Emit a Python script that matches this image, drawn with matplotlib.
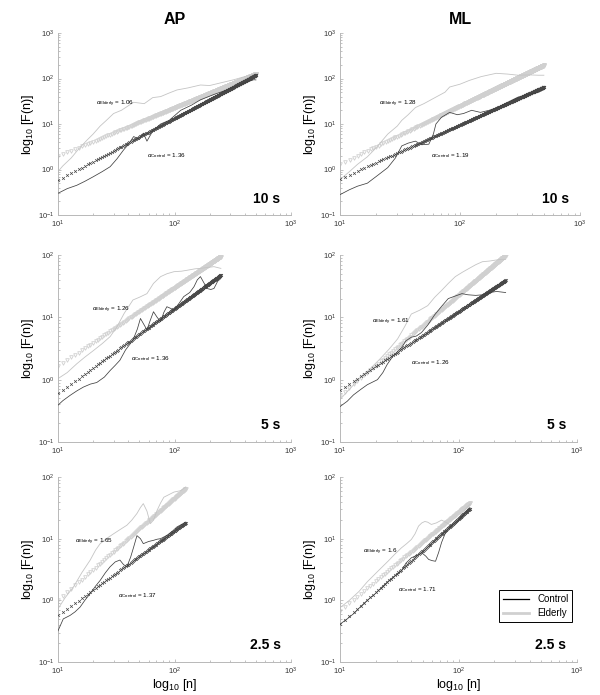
import numpy as np
import matplotlib
matplotlib.use("Agg")
import matplotlib.pyplot as plt
from matplotlib.lines import Line2D

plt.rcParams['font.family'] = ['Liberation Sans', 'DejaVu Sans']
plt.rcParams['mathtext.fontset'] = 'custom'
plt.rcParams['mathtext.rm'] = 'Liberation Sans'
plt.rcParams['mathtext.it'] = 'Liberation Sans:italic'
plt.rcParams['mathtext.bf'] = 'Liberation Sans:bold'

# window lengths and largest box size n of each row
windows = ['10 s', '5 s', '2.5 s']
n_max = [500, 250, 125]
directions = ['AP', 'ML']

# DFA exponents printed on the panels (rows: 10 s, 5 s, 2.5 s)
alpha_ctrl_ap = [1.36, 1.36, 1.37]
alpha_eld_ap = [1.06, 1.26, 1.65]
alpha_ctrl_ml = [1.19, 1.26, 1.71]
alpha_eld_ml = [1.28, 1.61, 1.6]

# fitted F(n) at n = 10
f10_ctrl_ap = [0.58, 0.6, 0.57]
f10_eld_ap = [1.97, 1.63, 1.0]
f10_ctrl_ml = [0.62, 0.68, 0.41]
f10_eld_ml = [1.3, 0.55, 0.67]

# raw fluctuation curves F(n)
# AP 10 s
n_ap10_c = [10, 12, 14.5, 17, 20, 24, 28, 32, 36.6, 40, 44.6, 50, 54, 58, 65, 76, 90, 113, 140, 167, 220, 283, 350, 420, 480, 500]
f_ap10_c = [0.30, 0.38, 0.45, 0.55, 0.69, 0.9, 1.15, 1.7, 2.7, 3.5, 5.3, 4.6, 6.3, 4.2, 7, 10, 12, 20, 26, 34, 45, 56, 70, 85, 94, 93]
n_ap10_e = [10, 11, 13, 15, 17.7, 20, 23, 26, 30, 35, 44.6, 55, 65, 76, 90, 105, 130, 167, 200, 248, 323, 400, 500]
f_ap10_e = [0.9, 1.2, 1.8, 2.8, 4.4, 6, 9, 12, 17, 20, 30, 28, 38, 40, 48, 56, 62, 72, 70, 80, 94, 110, 128]
# ML 10 s
n_ml10_c = [10, 12, 14, 16.9, 20, 25, 29, 32.7, 37, 42.5, 48, 55, 60, 63, 70, 82, 95, 107, 125, 148, 175, 206, 250, 305, 380, 452, 500]
f_ml10_c = [0.28, 0.36, 0.43, 0.5, 0.7, 1.1, 1.8, 3.3, 3.8, 4.2, 3.5, 3.6, 6, 10, 14, 18, 16, 17, 20, 18, 20, 23, 30, 39, 45, 50, 57]
n_ml10_e = [10, 12, 14, 16.9, 20, 25, 30, 32.7, 37, 42.5, 50, 63, 75, 82, 100, 120, 150, 200, 250, 305, 380, 450, 500]
f_ml10_e = [0.6, 0.9, 1.3, 1.9, 3, 6, 9, 12, 16, 23, 28, 39, 50, 65, 75, 91, 110, 130, 125, 118, 120, 118, 118]
# AP 5 s
n_ap5_c = [10, 11, 12.7, 14.5, 16.5, 19, 21.5, 25, 28, 31, 34, 38, 44, 48, 51, 55, 58, 62, 66, 71, 76, 81, 86, 92, 99, 110, 120, 135, 147, 157, 167, 180, 190, 205, 218, 235, 250]
f_ap5_c = [0.39, 0.46, 0.56, 0.66, 0.76, 0.85, 0.9, 1.1, 1.4, 1.7, 2.05, 3.0, 4.3, 6.5, 9.6, 7.5, 6.3, 9, 12.3, 10, 8.5, 12, 14.8, 14, 13, 17, 21.5, 25, 31, 40, 45, 35, 29, 28, 29, 38, 42]
n_ap5_e = [10, 12, 14.5, 17, 20, 24, 28, 32, 37, 44, 50, 58, 66, 76, 86, 99, 115, 129, 150, 167, 190, 218, 250]
f_ap5_e = [1.04, 1.3, 1.8, 2.3, 2.9, 3.8, 4.9, 7, 11.6, 19, 21, 24, 35, 45, 50, 54, 55, 57, 60, 61, 63, 65, 61]
# ML 5 s
n_ml5_c = [10, 11.5, 13, 15, 17, 20.7, 23, 25, 28, 32.8, 36, 40, 44, 48.7, 55, 63, 72, 82, 94, 107, 120, 140, 160, 183, 210, 250]
f_ml5_c = [0.37, 0.45, 0.57, 0.7, 0.83, 1.0, 1.3, 1.75, 2.4, 3.2, 4.2, 4.8, 5.0, 5.7, 7.5, 11, 15, 20, 22, 24, 23, 22.5, 23, 25, 26, 25]
n_ml5_e = [10, 12, 14.8, 18, 22, 26, 30.6, 35, 40, 47, 55, 63, 72, 82, 94, 108, 123, 140, 159, 183, 207, 230, 250]
f_ml5_e = [0.48, 0.7, 1.07, 1.5, 2.2, 3.1, 4.5, 7, 11.3, 13, 15.4, 21, 27, 35, 45, 53, 61, 70, 78, 80, 83, 85, 85]
# AP 2.5 s
n_ap25_c = [10, 11.1, 12.7, 14, 15.5, 17, 18.9, 21, 23, 25.5, 28, 31, 34, 36.5, 39, 42, 44.6, 47.6, 51, 54, 60, 66, 71, 76, 86, 95, 105, 115, 125]
f_ap25_c = [0.32, 0.5, 0.57, 0.65, 0.78, 1.0, 1.29, 1.7, 2.1, 2.8, 3.5, 4.2, 4.5, 3.8, 3.5, 5, 7.3, 11.2, 10, 8.3, 9, 9.4, 9.8, 10, 11.3, 13, 15.5, 17, 18.6]
n_ap25_e = [10, 11.5, 13.6, 16, 18.9, 21, 23, 26, 30, 34, 39, 43, 47.6, 51, 54, 58, 62, 66, 71, 76, 81, 90, 99, 113, 125]
f_ap25_e = [0.73, 1.1, 1.66, 2.8, 4.5, 6.5, 8.3, 10, 12, 14, 16.5, 20, 25.6, 32, 37, 28, 17.5, 20, 29, 38, 47, 52, 57, 60, 69]
# ML 2.5 s
n_ml25_c = [10, 11.5, 13.2, 15, 17, 20, 23, 26, 29, 33, 36, 40, 44, 49, 53, 56, 60, 64, 68, 72, 77, 83, 90, 100, 112, 125]
f_ml25_c = [0.41, 0.5, 0.62, 0.8, 1.0, 1.3, 1.7, 2.1, 2.5, 3.0, 4.0, 4.9, 5.3, 5.9, 5.2, 4.6, 4.4, 4.3, 6, 8.7, 12, 15, 17, 19.5, 25, 32]
n_ml25_e = [10, 12, 14.5, 17, 21, 25.4, 29, 33, 36.5, 40, 43, 46, 49, 52, 55, 59, 65, 72, 80, 88, 97, 107, 116, 125]
f_ml25_e = [0.76, 1.0, 1.4, 2.0, 3.0, 4.3, 5.6, 7.1, 8.3, 9.7, 12, 16, 18, 19, 18.5, 17, 18, 20, 18, 16, 19, 25, 31, 36]

raw = {
    ('AP', 0): (n_ap10_c, f_ap10_c, n_ap10_e, f_ap10_e),
    ('ML', 0): (n_ml10_c, f_ml10_c, n_ml10_e, f_ml10_e),
    ('AP', 1): (n_ap5_c, f_ap5_c, n_ap5_e, f_ap5_e),
    ('ML', 1): (n_ml5_c, f_ml5_c, n_ml5_e, f_ml5_e),
    ('AP', 2): (n_ap25_c, f_ap25_c, n_ap25_e, f_ap25_e),
    ('ML', 2): (n_ml25_c, f_ml25_c, n_ml25_e, f_ml25_e),
}
fits = {
    'AP': (alpha_ctrl_ap, f10_ctrl_ap, alpha_eld_ap, f10_eld_ap),
    'ML': (alpha_ctrl_ml, f10_ctrl_ml, alpha_eld_ml, f10_eld_ml),
}

# layout (pixels of the 600x695 image)
W, H = 600, 695
col_x = {'AP': (58, 291), 'ML': (340, 577)}
row_y = [(33, 215), (255, 442), (477, 662)]
ylims = [(0.1, 1000), (0.1, 100), (0.1, 100)]
# where the alpha labels sit (data coords): elderly, control
label_pos = {
    ('AP', 0): ((21, 28), (58, 2.0)),
    ('ML', 0): ((21, 28), (57, 2.0)),
    ('AP', 1): ((19.5, 13), (42, 2.2)),
    ('ML', 1): ((18.7, 8.6), (40, 1.86)),
    ('AP', 2): ((14, 8.8), (33, 1.2)),
    ('ML', 2): ((15.5, 6.2), (31, 1.5)),
}

ctrl_col = '#484848'
eld_col = '#d0d0d0'
axis_col = '#b8b8b8'

fig = plt.figure(figsize=(6, 6.95), dpi=100)

for d in directions:
    a_c, f_c, a_e, f_e = fits[d]
    for r in range(3):
        x0, x1 = col_x[d]
        if d == 'ML' and r == 0:
            x1 = 580
        y0, y1 = row_y[r]
        ax = fig.add_axes([x0 / W, 1 - y1 / H, (x1 - x0) / W, (y1 - y0) / H])
        ax.set_xscale('log')
        ax.set_yscale('log')

        n = np.arange(10, n_max[r] + 1)
        fit_c = f_c[r] * (n / 10.0) ** a_c[r]
        fit_e = f_e[r] * (n / 10.0) ** a_e[r]
        nc, fc, ne, fe = raw[(d, r)]

        ax.plot(n, fit_e, linestyle='none', marker='v', ms=2.6, mfc='none',
                mec=eld_col, mew=0.6, zorder=1)
        ax.plot(ne, fe, color='#c4c4c4', lw=0.6, zorder=2)
        ax.plot(n, fit_c, linestyle='none', marker='x', ms=2.0,
                mec=ctrl_col, mew=0.5, zorder=3)
        ax.plot(nc, fc, color='#404040', lw=0.55, zorder=4)

        (ex, ey), (cx, cy) = label_pos[(d, r)]
        ax.text(ex, ey, r'$\alpha_{\mathrm{Elderly}}$ = ' + str(a_e[r]),
                fontsize=4.5, va='center', ha='left')
        ax.text(cx, cy, r'$\alpha_{\mathrm{Control}}$ = ' + str(a_c[r]),
                fontsize=4.5, va='center', ha='left')

        ax.text(0.955, 0.09, windows[r], transform=ax.transAxes, ha='right',
                va='center', fontsize=10, fontweight='bold')

        ax.set_xlim(10, 1000)
        ax.set_ylim(*ylims[r])
        ax.spines['top'].set_visible(False)
        ax.spines['right'].set_visible(False)
        for s in ('left', 'bottom'):
            ax.spines[s].set_color(axis_col)
            ax.spines[s].set_linewidth(0.7)
        ax.tick_params(which='both', direction='in', colors=axis_col,
                       labelcolor='#333333', labelsize=5.5, width=0.6)
        ax.tick_params(axis='x', which='both', pad=3)
        ax.tick_params(axis='y', which='both', pad=2.5)
        ax.tick_params(which='major', length=2.5)
        ax.tick_params(which='minor', length=1.5)
        ax.set_ylabel(r'log$_{10}$ [F(n)]', fontsize=9, labelpad=1.5)
        if r == 2:
            ax.set_xlabel(r'log$_{10}$ [n]', fontsize=9, labelpad=0)
        if r == 0:
            fig.text((x0 + x1) / 2 / W, 1 - 20 / H, d, ha='center', va='center',
                     fontsize=11.5, fontweight='bold')
        if d == 'ML' and r == 2:
            handles = [Line2D([], [], color='black', lw=0.9),
                       Line2D([], [], color='#d0d0d0', lw=2)]
            leg = ax.legend(handles, ['Control', 'Elderly'], loc='lower right',
                            bbox_to_anchor=(1.0, 0.19), fontsize=7,
                            handlelength=2.7, fancybox=False, framealpha=1,
                            borderpad=0.4, labelspacing=0.4)
            leg.get_frame().set_edgecolor('black')
            leg.get_frame().set_linewidth(0.7)

fig.savefig('out.png', dpi=100)
